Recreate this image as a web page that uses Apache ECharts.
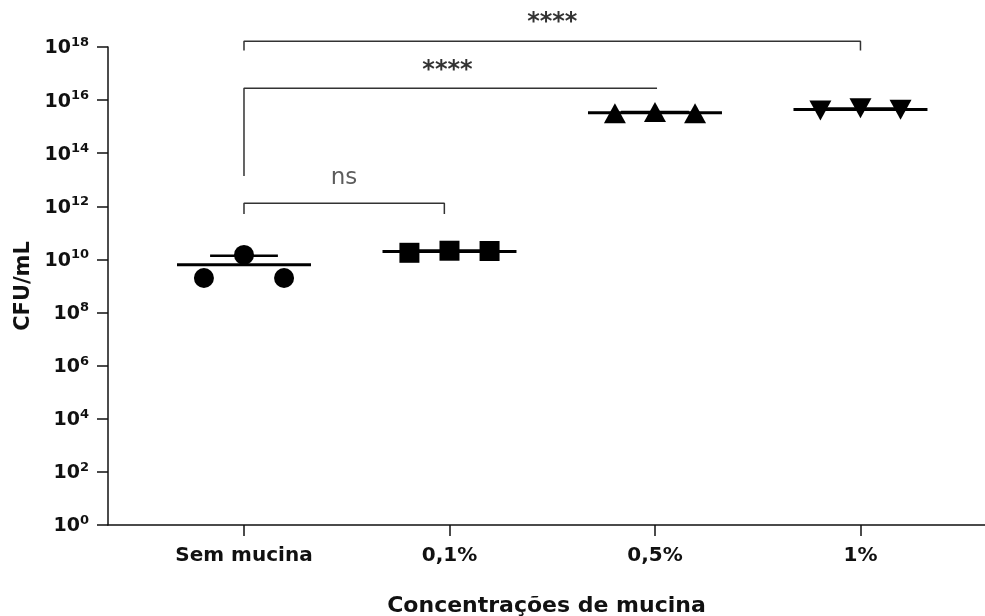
<!DOCTYPE html>
<html><head><meta charset="utf-8">
<script src="https://cdn.jsdelivr.net/npm/echarts@6/dist/echarts.min.js"></script>
<style>html,body{margin:0;padding:0;background:#fff}#c{width:985px;height:616px}</style>
</head><body><div id="c"></div>
<script>
// ---- data ----
const categories = ['Sem mucina', '0,1%', '0,5%', '1%'];
const semMucina = [2.0e9, 1.48e10, 2.0e9];
const mucina01 = [1.78e10, 2.13e10, 2.08e10];
const mucina05 = [3.2e15, 3.6e15, 3.2e15];
const mucina1 = [4.1e15, 4.9e15, 4.35e15];
const yTickExponents = [0, 2, 4, 6, 8, 10, 12, 14, 16, 18];
const comparisonLabels = ['ns', '****', '****'];

// ---- layout / style constants ----
const groups = [semMucina, mucina01, mucina05, mucina1];
const symbols = ['circle', 'rect', 'triangle', 'triangle'];
const rotations = [0, 0, 0, 180];
const sizes = [[20, 20], [20, 20], [22, 20], [22, 20]];
const JITTER = 0.195, MEAN_HW = 0.326, CAP_HW = 0.165;
const FONT = 'DejaVu Sans, sans-serif';

function mean(a) { return a.reduce((s, v) => s + v, 0) / a.length; }
function sd(a) { const m = mean(a); return Math.sqrt(a.reduce((s, v) => s + (v - m) * (v - m), 0) / (a.length - 1)); }
const P = e => Math.pow(10, e);

const series = [];
groups.forEach((arr, g) => {
  const m = mean(arr), s = sd(arr);
  series.push({
    type: 'line', data: [[g - MEAN_HW, m], [g + MEAN_HW, m]], symbol: 'none',
    lineStyle: { color: '#000', width: 3 }, silent: true, z: 3
  });
  series.push({
    type: 'line', data: [[g - CAP_HW, m + s], [g + CAP_HW, m + s]], symbol: 'none',
    lineStyle: { color: '#000', width: 2.5 }, silent: true, z: 3
  });
  series.push({
    type: 'line', data: [[g, m], [g, m + s]], symbol: 'none',
    lineStyle: { color: '#000', width: 2.5 }, silent: true, z: 3
  });
  series.push({
    type: 'scatter', symbol: symbols[g], symbolRotate: rotations[g], symbolSize: sizes[g],
    itemStyle: { color: '#000', opacity: 1 }, z: 4,
    data: arr.map((v, k) => [g + (k - 1) * JITTER, v])
  });
});

// significance brackets (annotation geometry, in exponent units)
const brackets = [
  [[0, 11.71], [0, 12.12], [0.975, 12.12], [0.975, 11.71]],
  [[0, 13.14], [0, 16.45], [2.01, 16.45]],
  [[0, 17.87], [0, 18.22], [3, 18.22], [3, 17.87]]
];
brackets.forEach(b => series.push({
  type: 'line', clip: false, symbol: 'none', silent: true,
  data: b.map(p => [p[0], P(p[1])]),
  lineStyle: { color: '#333', width: 1.5 }
}));
const labelPos = [[0.487, 13.05], [0.99, 17.1], [1.5, 18.9]];
const labelStyles = [
  { fontSize: 23, fontWeight: 'normal', color: '#333', fontFamily: FONT },
  { fontSize: 24, fontWeight: 'bold', color: '#000', fontFamily: FONT },
  { fontSize: 24, fontWeight: 'bold', color: '#000', fontFamily: FONT }
];
series.push({
  type: 'scatter', clip: false, symbolSize: 1, itemStyle: { color: 'rgba(0,0,0,0)' }, silent: true,
  data: labelPos.map((p, i) => ({
    value: [p[0], P(p[1])], name: comparisonLabels[i],
    label: Object.assign({ show: true, position: 'inside', formatter: comparisonLabels[i] }, labelStyles[i])
  }))
});

const chart = echarts.init(document.getElementById('c'), null, { renderer: 'canvas' });
chart.setOption({
  animation: false,
  backgroundColor: '#fff',
  grid: { left: 108, right: 0, top: 47, bottom: 91, containLabel: false, outerBoundsMode: 'none' },
  xAxis: {
    type: 'value', min: -0.6618, max: 3.606,
    splitLine: { show: false },
    axisLine: { onZero: false, lineStyle: { color: '#111', width: 1.5 } },
    axisTick: { show: true, length: 11, customValues: [0, 1, 2, 3], lineStyle: { color: '#111', width: 1.5 } },
    axisLabel: {
      customValues: [0, 1, 2, 3], formatter: v => categories[Math.round(v)],
      margin: 21, fontSize: 20, fontWeight: 'bold', color: '#111', fontFamily: FONT
    },
    name: 'Concentrações de mucina', nameLocation: 'middle', nameGap: 70,
    nameTextStyle: { fontSize: 22, fontWeight: 'bold', color: '#111', fontFamily: FONT }
  },
  yAxis: {
    type: 'log', logBase: 10, min: 1, max: 1.00001e18,
    splitLine: { show: false },
    axisLine: { show: true, onZero: false, lineStyle: { color: '#111', width: 1.5 } },
    axisTick: { show: true, length: 11, customValues: yTickExponents.map(P), lineStyle: { color: '#111', width: 1.5 } },
    axisLabel: {
      customValues: yTickExponents.map(P), margin: 19,
      formatter: v => '{b|10}{s|' + Math.round(Math.log10(v)) + '}',
      rich: {
        b: { fontSize: 19, fontWeight: 'bold', color: '#111', fontFamily: FONT, verticalAlign: 'bottom', lineHeight: 22 },
        s: { fontSize: 13, fontWeight: 'bold', color: '#111', fontFamily: FONT, verticalAlign: 'top', lineHeight: 22, padding: [0, 0, 8, 0] }
      }
    },
    name: 'CFU/mL', nameLocation: 'middle', nameGap: 72, nameRotate: 90,
    nameTextStyle: { fontSize: 21, fontWeight: 'bold', color: '#111', fontFamily: FONT }
  },
  series: series
});
</script></body></html>
